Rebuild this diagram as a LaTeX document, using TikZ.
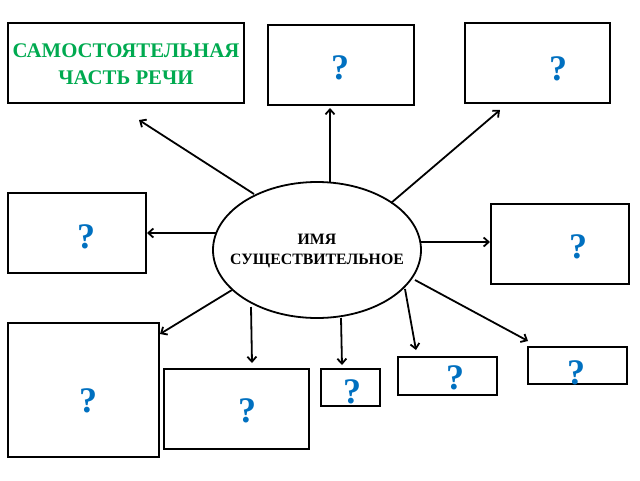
\documentclass[tikz,border=0pt]{standalone}
\usepackage{fontspec}
\setmainfont{Liberation Serif}
\usetikzlibrary{arrows.meta}
\definecolor{qblue}{RGB}{0,112,192}
\definecolor{tgreen}{RGB}{0,170,80}
\begin{document}
\begin{tikzpicture}[x=1pt,y=-1pt,
  box/.style={draw,line width=1.8pt},
  q/.style={text=qblue,font=\bfseries\fontsize{36}{38}\selectfont},
  arr/.style={line width=1.8pt,-{Straight Barb[length=5pt,width=9pt]}}]
\useasboundingbox (0,0) rectangle (640,480);
\draw[box] (8,23) rectangle (244,103);
\node[text=tgreen,font=\bfseries\fontsize{20.8}{27}\selectfont,align=center,inner sep=0pt] (ta) at (126,64) {САМОСТОЯТЕЛЬНАЯ\\ЧАСТЬ РЕЧИ};
\draw[box] (268,25) rectangle (414,105); \node[q] (qb) at (340,68) {?};
\draw[box] (465,23) rectangle (610,103); \node[q] (qc) at (558,69) {?};
\draw[box] (8,193) rectangle (146,273); \node[q] (qd) at (86,237) {?};
\draw[box] (491,204) rectangle (629,284); \node[q] (qe) at (578,247) {?};
\draw[box] (8,323) rectangle (159,457); \node[q] (qf) at (88,401) {?};
\draw[box] (164,369) rectangle (309,449); \node[q] (qg) at (247,411) {?};
\draw[box] (321,369) rectangle (380,406); \node[q] (qh) at (352,392) {?};
\draw[box] (398,357) rectangle (497,395); \node[q] (qi) at (455,378) {?};
\draw[box] (528,347) rectangle (627,384); \node[q] (qj) at (576,373) {?};
\draw[line width=1.8pt] (317,250) ellipse [x radius=104, y radius=68];
\node[font=\bfseries\fontsize{15.8}{20}\selectfont,align=center] (n) at (317,251) {ИМЯ\\СУЩЕСТВИТЕЛЬНОЕ};
\coordinate (sa) at (254,194); \coordinate (ea) at (139,120);
\coordinate (sb) at (330,183); \coordinate (eb) at (330,108);
\coordinate (sc) at (391,203); \coordinate (ec) at (500,110);
\coordinate (sd) at (216,233); \coordinate (ed) at (147,233);
\coordinate (se) at (421,242); \coordinate (ee) at (490,242);
\coordinate (sf) at (232,290); \coordinate (ef) at (160,334);
\coordinate (sg) at (251,307); \coordinate (eg) at (252,363);
\coordinate (sh) at (341,318); \coordinate (eh) at (342,365);
\coordinate (si) at (405,289); \coordinate (ei) at (416,350);
\coordinate (sj) at (415,280); \coordinate (ej) at (528,341);
\foreach \k in {a,b,c,d,e,f,g,h,i,j} \draw[arr] (s\k) -- (e\k);
\end{tikzpicture}
\end{document}
